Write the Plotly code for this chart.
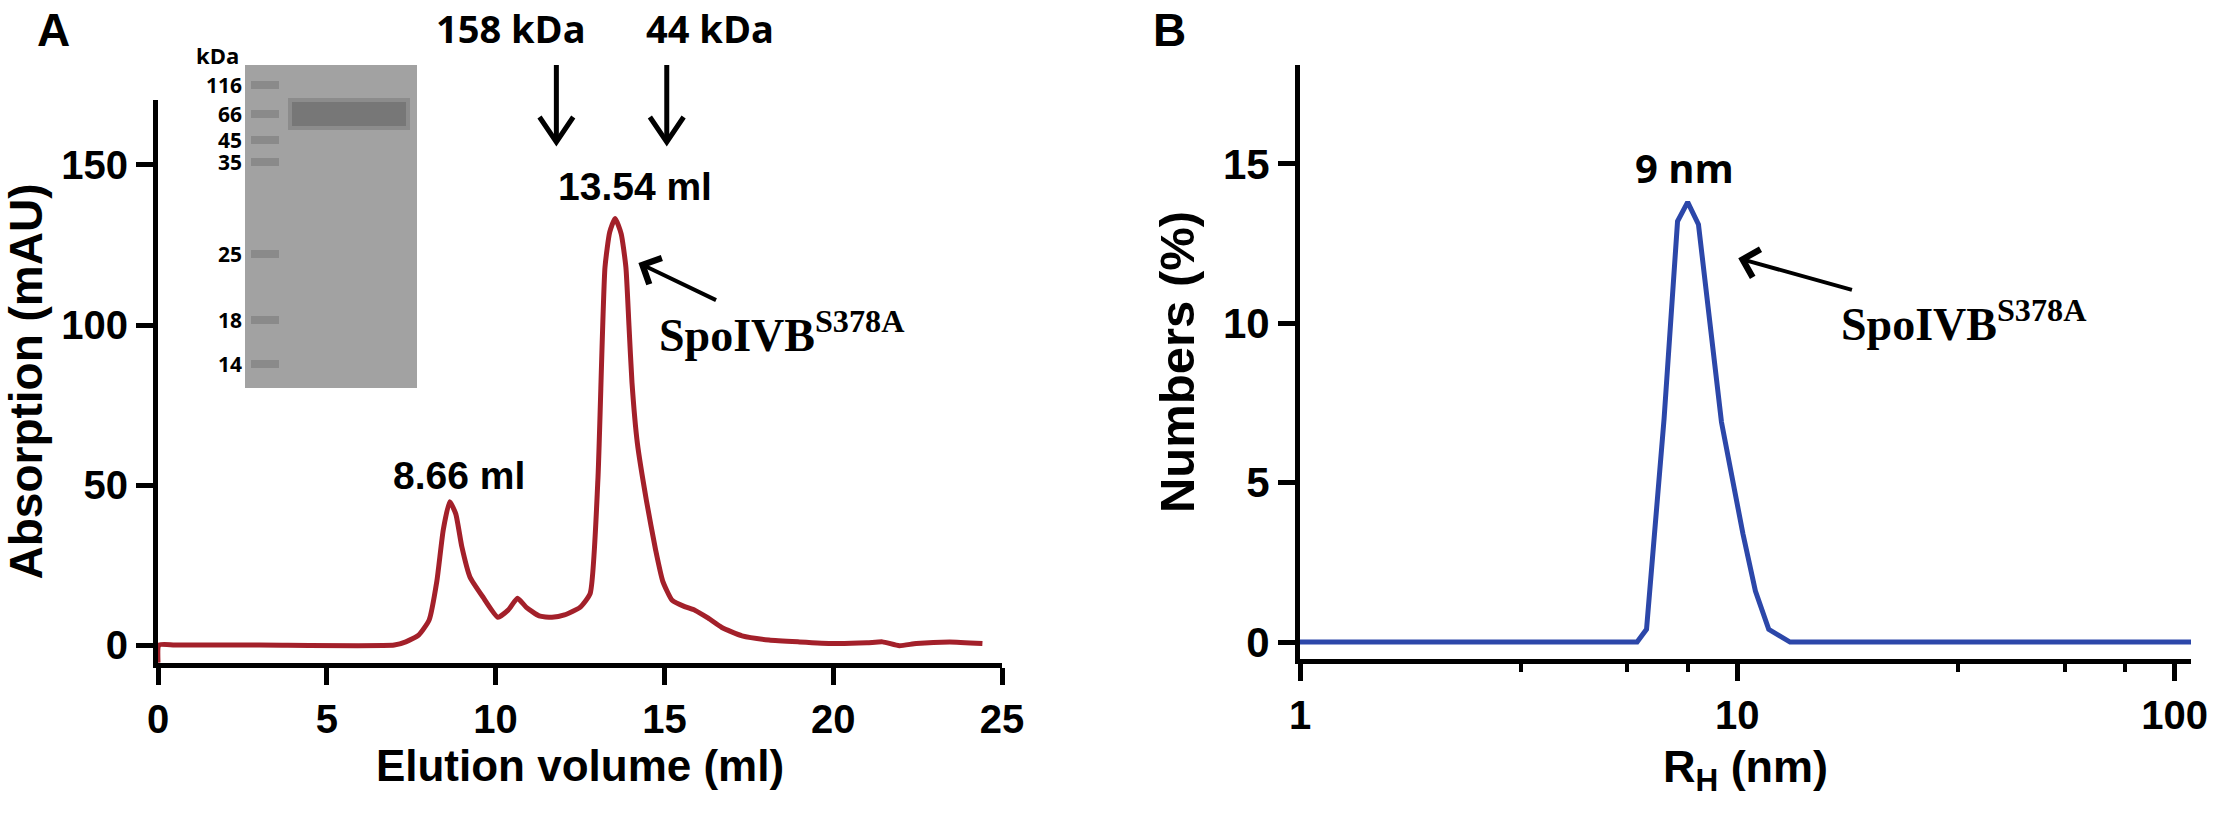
import numpy as np
import plotly.graph_objects as go

W, H = 2220, 814

# panel A: size exclusion chromatogram
elution_ml = [0, 0.03, 0.5, 3.0, 7.0, 7.34, 7.72, 8.03, 8.26, 8.45, 8.64, 8.82, 9.0, 9.24, 9.62,
              10.07, 10.37, 10.65, 10.91, 11.29, 11.67, 12.04, 12.5, 12.8, 13.03, 13.24,
              13.38, 13.54, 13.72, 13.86, 13.95, 14.04, 14.2, 14.47, 14.74, 14.95, 15.23,
              15.6, 15.9, 16.3, 16.7, 17.3, 18.1, 19.0, 20.0, 21.0, 21.46, 21.96, 22.46,
              23.45, 24.42]
absorb_mau = [-5.5, 0, 0, 0, 0, 1.0, 3.1, 7.8, 20, 36, 44.8, 41, 30.7, 21.3, 15.1,
              8.7, 10.9, 14.6, 11.8, 9.1, 8.7, 9.4, 11.8, 16.1, 51.6, 118,
              129, 133.3, 128.5, 118, 100, 82, 63, 45, 29.7, 20, 14,
              12, 10.9, 8.4, 5.5, 2.9, 1.6, 1.0, 0.5, 0.7, 1.0, -0.2, 0.5,
              1.0, 0.5]

peak_labels = ["8.66 ml", "13.54 ml"]
standards = ["158 kDa", "44 kDa"]
standard_ml = [11.8, 15.07]
ladder_kda = ["116", "66", "45", "35", "25", "18", "14"]

# panel B: DLS size distribution
rh_nm = [1, 5.9, 6.2, 6.8, 7.3, 7.7, 8.15, 8.6, 9.2, 10.3, 11.0, 11.8, 13.2, 109]
numbers_pct = [0, 0, 0.4, 7.0, 13.2, 13.8, 13.1, 10.4, 6.9, 3.4, 1.6, 0.4, 0, 0]

protein = "SpoIVB<sup>S378A</sup>"

SANS = "Liberation Sans"
RED = "#a3202a"
BLUE = "#2c47a9"


def px(x):
    return x / W


def py(y):
    return 1 - y / H


fig = go.Figure()
fig.add_trace(go.Scatter(x=elution_ml, y=absorb_mau, mode="lines",
                         line=dict(color=RED, width=5, shape="spline", smoothing=0.5),
                         xaxis="x", yaxis="y", hoverinfo="skip"))
fig.add_trace(go.Scatter(x=rh_nm, y=numbers_pct, mode="lines",
                         line=dict(color=BLUE, width=5),
                         xaxis="x2", yaxis="y2", hoverinfo="skip"))

axis_common = dict(showline=True, linewidth=5, linecolor="black", ticks="outside",
                   ticklen=17, tickwidth=5, tickcolor="black", showgrid=False,
                   zeroline=False, automargin=False)


def bold(size, family=SANS):
    return dict(family=family, size=size, color="black", weight="bold")


fig.update_layout(
    width=W, height=H, margin=dict(l=0, r=0, t=0, b=0),
    paper_bgcolor="white", plot_bgcolor="white", showlegend=False,
    xaxis=dict(axis_common, domain=[px(158), px(1002)], range=[0, 25],
               tickvals=[0, 5, 10, 15, 20, 25], anchor="y", tickfont=bold(40),
               title=dict(text="Elution volume (ml)", font=bold(44), standoff=12)),
    yaxis=dict(axis_common, domain=[py(663), py(100)], range=[-5.6, 170.3],
               tickvals=[0, 50, 100, 150], anchor="x", tickfont=bold(40),
               title=dict(text="Absorption (mAU)", font=bold(46), standoff=14)),
    xaxis2=dict(axis_common, type="log", domain=[px(1300), px(2191)],
                range=[0, np.log10(109)], tickvals=[1, 10, 100], anchor="y2",
                tickfont=bold(40),
                minor=dict(tickvals=[3.2, 5.6, 7.7, 32, 56, 77], ticks="outside",
                           ticklen=8, tickwidth=4, tickcolor="black"),
                title=dict(text="R<sub>H</sub> (nm)", font=bold(45), standoff=16)),
    yaxis2=dict(axis_common, domain=[py(659), py(65)], range=[-0.53, 18.1],
                tickvals=[0, 5, 10, 15], anchor="x2", tickfont=bold(42),
                title=dict(text="Numbers (%)", font=bold(49), standoff=14)),
)


def paper_text(text, x, y, size, family=SANS, xanchor="center"):
    return dict(text=text, x=px(x), y=py(y), xref="paper", yref="paper",
                xanchor=xanchor, yanchor="middle", showarrow=False,
                font=bold(size, family))


ann = []
# panel letters
ann.append(paper_text("A", 53, 30, 46))
ann.append(paper_text("B", 1170, 30, 46))

# peak labels
for text, xv, yv in zip(peak_labels, [8.92, 14.12], [53.1, 143.4]):
    ann.append(dict(text=text, x=xv, y=yv, xref="x", yref="y", showarrow=False,
                    font=bold(39)))

shapes = []
# calibration standards with down arrows
for text, xv, xc in zip(standards, standard_ml, [511, 710]):
    ann.append(paper_text(text, xc, 28, 38, family="Open Sans"))
    shapes.append(dict(type="line", xref="x", yref="paper", x0=xv, x1=xv,
                       y0=py(65), y1=py(139), line=dict(color="black", width=5)))
    shapes.append(dict(type="path", xref="x", yref="paper",
                       path=f"M {xv - 0.5},{py(117)} L {xv},{py(142)} L {xv + 0.5},{py(117)}",
                       line=dict(color="black", width=5)))

# protein labels with arrows pointing at the peaks
ann.append(dict(text=protein, x=14.23, y=119.4, xref="x", yref="y",
                ax=144, ay=69, xanchor="center", yanchor="middle", showarrow=True,
                arrowhead=4, arrowsize=1.4, arrowwidth=4, arrowcolor="black",
                startstandoff=3, font=bold(46, "Liberation Serif")))
ann.append(dict(text=protein, x=np.log10(10.05), y=12.04, xref="x2", yref="y2",
                ax=226, ay=63, xanchor="center", yanchor="middle", showarrow=True,
                arrowhead=4, arrowsize=1.4, arrowwidth=4, arrowcolor="black",
                startstandoff=3, font=bold(46, "Liberation Serif")))

# panel B peak label
ann.append(dict(text="9 nm", x=np.log10(7.56), y=14.9, xref="x2", yref="y2", showarrow=False,
                font=bold(40, "Open Sans")))

# SDS-PAGE inset: ladder labels
ladder_y = [85, 114, 140, 162, 254, 320, 364]
ann.append(paper_text("kDa", 217, 55, 22, family="Open Sans"))
for lab, yy in zip(ladder_kda, ladder_y):
    ann.append(paper_text(lab, 244, yy, 21, family="Open Sans", xanchor="right"))

shapes.append(dict(type="rect", xref="paper", yref="paper", x0=px(245), x1=px(417),
                   y0=py(388), y1=py(65), fillcolor="#a2a2a2", line=dict(width=0),
                   layer="below"))
for yy in ladder_y:
    shapes.append(dict(type="rect", xref="paper", yref="paper", x0=px(251), x1=px(279),
                       y0=py(yy + 4), y1=py(yy - 4), fillcolor="#8a8a8a",
                       line=dict(width=0), layer="below"))
shapes.append(dict(type="rect", xref="paper", yref="paper", x0=px(288), x1=px(410),
                   y0=py(130), y1=py(98), fillcolor="#8c8c8c", line=dict(width=0),
                   layer="below"))
shapes.append(dict(type="rect", xref="paper", yref="paper", x0=px(292), x1=px(406),
                   y0=py(126), y1=py(102), fillcolor="#777777", line=dict(width=0),
                   layer="below"))

fig.update_layout(annotations=ann, shapes=shapes)
# drop the browser's default 8px body margin so the figure sits at the page corner
fig.write_html("out.html", config={"displayModeBar": False},
               post_script="document.body.style.margin='0';document.body.style.overflow='hidden';")
